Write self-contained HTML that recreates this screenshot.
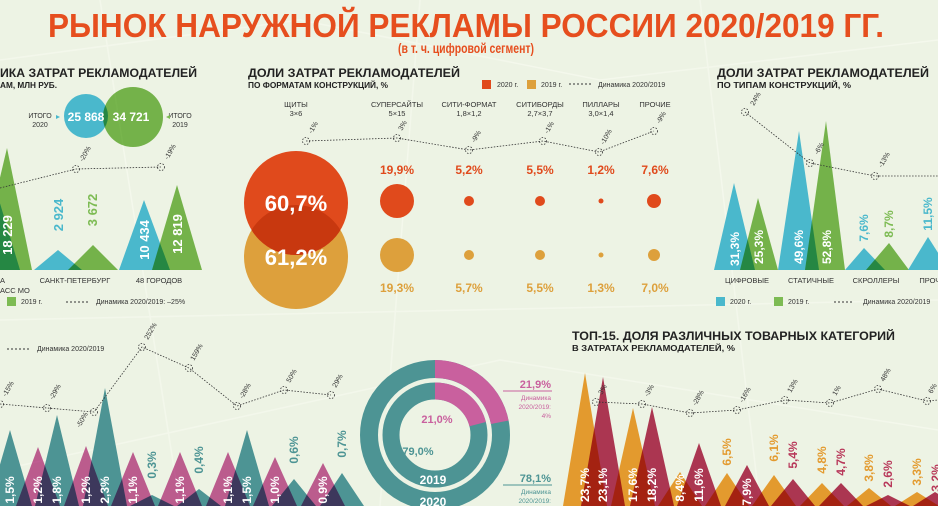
<!DOCTYPE html>
<html><head><meta charset="utf-8"><style>
html,body{margin:0;padding:0;background:#edf3e4;}
svg{display:block;font-family:"Liberation Sans","Noto Sans CJK SC",sans-serif;}
.h{font-weight:bold;font-size:11.5px;fill:#222;}
.s{font-weight:bold;font-size:8px;fill:#222;}
.l{font-size:7px;fill:#333;}
.c{font-size:7.5px;fill:#333;}
.w{font-weight:bold;fill:#fff;}
.d{fill:none;stroke:#333;stroke-width:1;stroke-dasharray:2 2;}
.p{fill:none;stroke:#333;stroke-width:0.8;stroke-dasharray:1.5 1.5;}
.r{font-size:7px;fill:#333;}
.m{mix-blend-mode:multiply;}
</style></head><body>
<svg width="938" height="506" viewBox="0 0 938 506" xmlns="http://www.w3.org/2000/svg">
<defs><clipPath id="gc"><circle cx="296" cy="257" r="52"/></clipPath></defs>
<rect width="938" height="506" fill="#edf3e4"/>
<g stroke="#f6faef" stroke-width="1.5" fill="none" opacity="0.7">
<path d="M0 60 L300 20 L600 80 L938 40"/><path d="M100 0 L180 506"/><path d="M420 0 L380 506"/><path d="M700 0 L760 506"/><path d="M0 320 L938 300"/><path d="M0 470 L500 360 L938 430"/>
</g>
<text x="466" y="37" text-anchor="middle" font-weight="bold" font-size="33" fill="#e64e1e" textLength="836" lengthAdjust="spacingAndGlyphs">РЫНОК НАРУЖНОЙ РЕКЛАМЫ РОССИИ 2020/2019 ГГ.</text>
<text x="466" y="53" text-anchor="middle" font-weight="bold" font-size="14" fill="#e64e1e" textLength="136" lengthAdjust="spacingAndGlyphs">(в т. ч. цифровой сегмент)</text>

<!-- top left -->
<text x="0" y="77" class="h" textLength="197" lengthAdjust="spacingAndGlyphs">ИКА ЗАТРАТ РЕКЛАМОДАТЕЛЕЙ</text>
<text x="0" y="88" class="s" textLength="57" lengthAdjust="spacingAndGlyphs">АМ, МЛН РУБ.</text>
<circle cx="86" cy="116" r="22" fill="#4ab8cc"/>
<circle cx="133" cy="117" r="30" fill="#7dbb53" class="m"/>
<text x="86" y="121" text-anchor="middle" class="w" font-size="12">25 868</text>
<text x="131" y="121" text-anchor="middle" class="w" font-size="12">34 721</text>
<text x="40" y="118" text-anchor="middle" class="l">ИТОГО</text><text x="40" y="127" text-anchor="middle" class="l">2020</text>
<text x="180" y="118" text-anchor="middle" class="l">ИТОГО</text><text x="180" y="127" text-anchor="middle" class="l">2019</text>
<polygon points="56,115 60,117 56,119" fill="#4ab8cc"/><polygon points="170,115 166,117 170,119" fill="#7dbb53"/>
<polygon points="-40,270 -10,170 20,270" fill="#4ab8cc"/>
<polygon points="-22,270 7,148 32,270" fill="#7dbb53" class="m"/>
<polygon points="34,270 58,250 82,270" fill="#4ab8cc"/>
<polygon points="68,270 93,245 118,270" fill="#7dbb53" class="m"/>
<polygon points="119,270 144,200 170,270" fill="#4ab8cc"/>
<polygon points="152,270 177,185 202,270" fill="#7dbb53" class="m"/>
<text transform="translate(12,235) rotate(-90)" text-anchor="middle" class="w" font-size="13">18 229</text>
<text transform="translate(63,215) rotate(-90)" text-anchor="middle" font-weight="bold" font-size="13" fill="#4ab8cc">2 924</text>
<text transform="translate(97,210) rotate(-90)" text-anchor="middle" font-weight="bold" font-size="13" fill="#7dbb53">3 672</text>
<text transform="translate(149,240) rotate(-90)" text-anchor="middle" class="w" font-size="13">10 434</text>
<text transform="translate(182,234) rotate(-90)" text-anchor="middle" class="w" font-size="13">12 819</text>
<polyline points="0,188 76,169 161,167" class="p"/>
<circle cx="76" cy="169" r="3.5" class="p"/><circle cx="161" cy="167" r="3.5" class="p"/>
<text transform="translate(83,162) rotate(-60)" class="r">-20%</text>
<text transform="translate(168,160) rotate(-60)" class="r">-19%</text>
<text x="0" y="283" class="c">А</text><text x="0" y="293" class="c">АСС МО</text>
<text x="75" y="283" text-anchor="middle" class="c">САНКТ-ПЕТЕРБУРГ</text>
<text x="159" y="283" text-anchor="middle" class="c">48 ГОРОДОВ</text>
<rect x="7" y="297" width="9" height="9" fill="#7dbb53"/><text x="21" y="304" class="l">2019 г.</text>
<line x1="66" y1="302" x2="90" y2="302" class="d"/><text x="96" y="304" class="l">Динамика 2020/2019: –25%</text>

<!-- middle top -->
<text x="248" y="77" class="h" textLength="212" lengthAdjust="spacingAndGlyphs">ДОЛИ ЗАТРАТ РЕКЛАМОДАТЕЛЕЙ</text>
<text x="248" y="88" class="s" textLength="140" lengthAdjust="spacingAndGlyphs">ПО ФОРМАТАМ КОНСТРУКЦИЙ, %</text>
<rect x="482" y="80" width="9" height="9" fill="#e04a1c"/><text x="497" y="87" class="l">2020 г.</text>
<rect x="527" y="80" width="9" height="9" fill="#dda03c"/><text x="541" y="87" class="l">2019 г.</text>
<line x1="569" y1="84" x2="591" y2="84" class="d"/><text x="598" y="87" class="l">Динамика 2020/2019</text>
<g class="c" text-anchor="middle">
<text x="296" y="107">ЩИТЫ</text><text x="296" y="116">3×6</text>
<text x="397" y="107">СУПЕРСАЙТЫ</text><text x="397" y="116">5×15</text>
<text x="469" y="107">СИТИ-ФОРМАТ</text><text x="469" y="116">1,8×1,2</text>
<text x="540" y="107">СИТИБОРДЫ</text><text x="540" y="116">2,7×3,7</text>
<text x="601" y="107">ПИЛЛАРЫ</text><text x="601" y="116">3,0×1,4</text>
<text x="655" y="107">ПРОЧИЕ</text>
</g>
<polyline points="306,141 397,138 469,150 543,141 599,152 654,131" class="p"/>
<g class="p"><circle cx="306" cy="141" r="3.5"/><circle cx="397" cy="138" r="3.5"/><circle cx="469" cy="150" r="3.5"/><circle cx="543" cy="141" r="3.5"/><circle cx="599" cy="152" r="3.5"/><circle cx="654" cy="131" r="3.5"/></g>
<text transform="translate(312,134) rotate(-60)" class="r">-1%</text>
<text transform="translate(402,131) rotate(-60)" class="r">3%</text>
<text transform="translate(475,143) rotate(-60)" class="r">-9%</text>
<text transform="translate(548,134) rotate(-60)" class="r">-1%</text>
<text transform="translate(604,145) rotate(-60)" class="r">-10%</text>
<text transform="translate(660,124) rotate(-60)" class="r">-9%</text>
<circle cx="296" cy="257" r="52" fill="#dda03c"/>
<circle cx="296" cy="203" r="52" fill="#e04a1c"/>
<circle cx="296" cy="203" r="52" fill="#c8380f" clip-path="url(#gc)"/>
<text x="296" y="211" text-anchor="middle" class="w" font-size="22">60,7%</text>
<text x="296" y="265" text-anchor="middle" class="w" font-size="22">61,2%</text>
<g fill="#e04a1c"><circle cx="397" cy="201" r="17"/><circle cx="469" cy="201" r="5"/><circle cx="540" cy="201" r="5"/><circle cx="601" cy="201" r="2.5"/><circle cx="654" cy="201" r="7"/></g>
<g fill="#dda03c"><circle cx="397" cy="255" r="17"/><circle cx="469" cy="255" r="5"/><circle cx="540" cy="255" r="5"/><circle cx="601" cy="255" r="2.5"/><circle cx="654" cy="255" r="6"/></g>
<g font-weight="bold" font-size="12" text-anchor="middle" fill="#e04a1c">
<text x="397" y="174">19,9%</text><text x="469" y="174">5,2%</text><text x="540" y="174">5,5%</text><text x="601" y="174">1,2%</text><text x="655" y="174">7,6%</text></g>
<g font-weight="bold" font-size="12" text-anchor="middle" fill="#dda03c">
<text x="397" y="292">19,3%</text><text x="469" y="292">5,7%</text><text x="540" y="292">5,5%</text><text x="601" y="292">1,3%</text><text x="655" y="292">7,0%</text></g>

<!-- right top -->
<text x="717" y="77" class="h" textLength="212" lengthAdjust="spacingAndGlyphs">ДОЛИ ЗАТРАТ РЕКЛАМОДАТЕЛЕЙ</text>
<text x="717" y="88" class="s" textLength="134" lengthAdjust="spacingAndGlyphs">ПО ТИПАМ КОНСТРУКЦИЙ, %</text>
<polygon points="714,270 734,183 755,270" fill="#4ab8cc"/>
<polygon points="740,270 758,198 778,270" fill="#7dbb53" class="m"/>
<polygon points="778,270 799,131 819,270" fill="#4ab8cc"/>
<polygon points="805,270 826,121 845,270" fill="#7dbb53" class="m"/>
<polygon points="845,270 864,248 885,270" fill="#4ab8cc"/>
<polygon points="866,270 889,243 909,270" fill="#7dbb53" class="m"/>
<polygon points="908,270 928,237 949,270" fill="#4ab8cc"/>
<g font-weight="bold" font-size="12" text-anchor="middle">
<text transform="translate(739,249) rotate(-90)" fill="#fff">31,3%</text>
<text transform="translate(763,247) rotate(-90)" fill="#fff">25,3%</text>
<text transform="translate(803,247) rotate(-90)" fill="#fff">49,6%</text>
<text transform="translate(831,247) rotate(-90)" fill="#fff">52,8%</text>
<text transform="translate(868,228) rotate(-90)" fill="#4ab8cc">7,6%</text>
<text transform="translate(893,224) rotate(-90)" fill="#7dbb53">8,7%</text>
<text transform="translate(932,214) rotate(-90)" fill="#4ab8cc">11,5%</text></g>
<polyline points="745,112 810,163 875,176 938,176" class="p"/>
<g class="p"><circle cx="745" cy="112" r="3.5"/><circle cx="810" cy="163" r="3.5"/><circle cx="875" cy="176" r="3.5"/></g>
<text transform="translate(754,106) rotate(-60)" class="r">24%</text>
<text transform="translate(818,155) rotate(-60)" class="r">-6%</text>
<text transform="translate(882,168) rotate(-60)" class="r">-13%</text>
<g class="c" text-anchor="middle"><text x="747" y="283">ЦИФРОВЫЕ</text><text x="811" y="283">СТАТИЧНЫЕ</text><text x="876" y="283">СКРОЛЛЕРЫ</text><text x="935" y="283">ПРОЧИЕ</text></g>
<rect x="716" y="297" width="9" height="9" fill="#4ab8cc"/><text x="730" y="304" class="l">2020 г.</text>
<rect x="774" y="297" width="9" height="9" fill="#7dbb53"/><text x="788" y="304" class="l">2019 г.</text>
<line x1="834" y1="302" x2="853" y2="302" class="d"/><text x="863" y="304" class="l">Динамика 2020/2019</text>

<!-- bottom left -->
<line x1="7" y1="349" x2="30" y2="349" class="d"/><text x="37" y="351" class="l">Динамика 2020/2019</text>
<g fill="#4d9494">
<polygon points="-12,506 10,430 32,506"/><polygon points="35,506 57,415 79,506"/><polygon points="83,506 105,388 127,506"/><polygon points="130,506 152,495 174,506"/><polygon points="177,506 199,489 221,506"/><polygon points="225,506 247,430 269,506"/><polygon points="272,506 294,479 316,506"/><polygon points="320,506 342,473 364,506"/></g>
<g fill="#c9609e" class="m">
<polygon points="16,506 38,447 60,506"/><polygon points="64,506 86,446 108,506"/><polygon points="111,506 133,452 155,506"/><polygon points="158,506 180,452 202,506"/><polygon points="206,506 228,452 250,506"/><polygon points="253,506 275,457 297,506"/><polygon points="301,506 323,463 345,506"/></g>
<g font-weight="bold" font-size="12" text-anchor="middle">
<text transform="translate(14,490) rotate(-90)" fill="#fff">1,5%</text>
<text transform="translate(42,490) rotate(-90)" fill="#fff">1,2%</text>
<text transform="translate(61,490) rotate(-90)" fill="#fff">1,8%</text>
<text transform="translate(90,490) rotate(-90)" fill="#fff">1,2%</text>
<text transform="translate(109,490) rotate(-90)" fill="#fff">2,3%</text>
<text transform="translate(137,490) rotate(-90)" fill="#fff">1,1%</text>
<text transform="translate(156,465) rotate(-90)" fill="#4d9494">0,3%</text>
<text transform="translate(184,490) rotate(-90)" fill="#fff">1,1%</text>
<text transform="translate(203,460) rotate(-90)" fill="#4d9494">0,4%</text>
<text transform="translate(232,490) rotate(-90)" fill="#fff">1,1%</text>
<text transform="translate(251,490) rotate(-90)" fill="#fff">1,5%</text>
<text transform="translate(279,490) rotate(-90)" fill="#fff">1,0%</text>
<text transform="translate(298,450) rotate(-90)" fill="#4d9494">0,6%</text>
<text transform="translate(327,490) rotate(-90)" fill="#fff">0,9%</text>
<text transform="translate(346,444) rotate(-90)" fill="#4d9494">0,7%</text></g>
<polyline points="0,404 47,408 94,412 142,347 189,368 237,406 284,390 331,395" class="p"/>
<g class="p"><circle cx="0" cy="404" r="3.5"/><circle cx="47" cy="408" r="3.5"/><circle cx="94" cy="412" r="3.5"/><circle cx="142" cy="347" r="3.5"/><circle cx="189" cy="368" r="3.5"/><circle cx="237" cy="406" r="3.5"/><circle cx="284" cy="390" r="3.5"/><circle cx="331" cy="395" r="3.5"/></g>
<g class="r"><text transform="translate(6,397) rotate(-60)">-15%</text><text transform="translate(53,400) rotate(-60)">-29%</text><text transform="translate(80,428) rotate(-60)">-50%</text><text transform="translate(148,340) rotate(-60)">252%</text><text transform="translate(194,361) rotate(-60)">159%</text><text transform="translate(243,399) rotate(-60)">-28%</text><text transform="translate(290,383) rotate(-60)">50%</text><text transform="translate(336,388) rotate(-60)">29%</text></g>

<!-- donut -->
<circle cx="435" cy="435" r="66" fill="none" stroke="#4d9494" stroke-width="18"/>
<circle cx="435" cy="435" r="66" fill="none" stroke="#c9609e" stroke-width="18" stroke-dasharray="90.8 500" transform="rotate(-90 435 435)"/>
<circle cx="435" cy="435" r="44" fill="none" stroke="#4d9494" stroke-width="17"/>
<circle cx="435" cy="435" r="44" fill="none" stroke="#c9609e" stroke-width="17" stroke-dasharray="58 500" transform="rotate(-90 435 435)"/>
<text x="437" y="423" text-anchor="middle" font-weight="bold" font-size="11" fill="#c9609e">21,0%</text>
<text x="418" y="455" text-anchor="middle" font-weight="bold" font-size="11" fill="#4d9494">79,0%</text>
<text x="433" y="484" text-anchor="middle" class="w" font-size="12">2019</text>
<text x="433" y="506" text-anchor="middle" class="w" font-size="12">2020</text>
<line x1="503" y1="391" x2="552" y2="391" stroke="#c9609e"/>
<text x="551" y="388" text-anchor="end" font-weight="bold" font-size="11" fill="#c9609e">21,9%</text>
<g font-size="6.5" fill="#c9609e" text-anchor="end"><text x="551" y="400">Динамика</text><text x="551" y="409">2020/2019:</text><text x="551" y="418">4%</text></g>
<line x1="503" y1="485" x2="552" y2="485" stroke="#4d9494"/>
<text x="551" y="482" text-anchor="end" font-weight="bold" font-size="11" fill="#4d9494">78,1%</text>
<g font-size="6.5" fill="#4d9494" text-anchor="end"><text x="551" y="494">Динамика</text><text x="551" y="503">2020/2019:</text></g>

<!-- bottom right -->
<text x="572" y="340" class="h" textLength="323" lengthAdjust="spacingAndGlyphs">ТОП-15. ДОЛЯ РАЗЛИЧНЫХ ТОВАРНЫХ КАТЕГОРИЙ</text>
<text x="572" y="351" class="s" textLength="163" lengthAdjust="spacingAndGlyphs">В ЗАТРАТАХ РЕКЛАМОДАТЕЛЕЙ, %</text>
<g fill="#e39a2e">
<polygon points="563,506 585,373 607,506"/><polygon points="611,506 633,408 655,506"/><polygon points="658,506 680,472 702,506"/><polygon points="705,506 727,473 749,506"/><polygon points="752,506 774,475 796,506"/><polygon points="800,506 822,483 844,506"/><polygon points="847,506 869,488 891,506"/><polygon points="895,506 917,492 939,506"/></g>
<g fill="#b8385a" class="m">
<polygon points="581,506 603,377 625,506"/><polygon points="630,506 652,407 674,506"/><polygon points="677,506 699,443 721,506"/><polygon points="725,506 747,465 769,506"/><polygon points="771,506 793,479 815,506"/><polygon points="819,506 841,483 863,506"/><polygon points="866,506 888,495 910,506"/><polygon points="913,506 935,492 957,506"/></g>
<g font-weight="bold" font-size="12" text-anchor="middle">
<text transform="translate(589,485) rotate(-90)" fill="#fff">23,7%</text>
<text transform="translate(607,485) rotate(-90)" fill="#fff">23,1%</text>
<text transform="translate(637,485) rotate(-90)" fill="#fff">17,6%</text>
<text transform="translate(656,485) rotate(-90)" fill="#fff">18,2%</text>
<text transform="translate(684,488) rotate(-90)" fill="#fff">8,4%</text>
<text transform="translate(703,485) rotate(-90)" fill="#fff">11,6%</text>
<text transform="translate(731,452) rotate(-90)" fill="#e39a2e">6,5%</text>
<text transform="translate(751,492) rotate(-90)" fill="#fff">7,9%</text>
<text transform="translate(778,448) rotate(-90)" fill="#e39a2e">6,1%</text>
<text transform="translate(797,455) rotate(-90)" fill="#b8385a">5,4%</text>
<text transform="translate(826,460) rotate(-90)" fill="#e39a2e">4,8%</text>
<text transform="translate(845,462) rotate(-90)" fill="#b8385a">4,7%</text>
<text transform="translate(873,468) rotate(-90)" fill="#e39a2e">3,8%</text>
<text transform="translate(892,474) rotate(-90)" fill="#b8385a">2,6%</text>
<text transform="translate(921,472) rotate(-90)" fill="#e39a2e">3,3%</text>
<text transform="translate(940,478) rotate(-90)" fill="#b8385a">3,2%</text></g>
<polyline points="596,402 642,404 690,413 737,410 785,400 830,403 878,389 927,401 938,400" class="p"/>
<g class="p"><circle cx="596" cy="402" r="3.5"/><circle cx="642" cy="404" r="3.5"/><circle cx="690" cy="413" r="3.5"/><circle cx="737" cy="410" r="3.5"/><circle cx="785" cy="400" r="3.5"/><circle cx="830" cy="403" r="3.5"/><circle cx="878" cy="389" r="3.5"/><circle cx="927" cy="401" r="3.5"/></g>
<g class="r"><text transform="translate(602,395) rotate(-60)">3%</text><text transform="translate(648,397) rotate(-60)">-3%</text><text transform="translate(696,406) rotate(-60)">-28%</text><text transform="translate(743,403) rotate(-60)">-16%</text><text transform="translate(791,393) rotate(-60)">13%</text><text transform="translate(836,396) rotate(-60)">1%</text><text transform="translate(884,382) rotate(-60)">48%</text><text transform="translate(932,394) rotate(-60)">6%</text></g>
</svg>
</body></html>
